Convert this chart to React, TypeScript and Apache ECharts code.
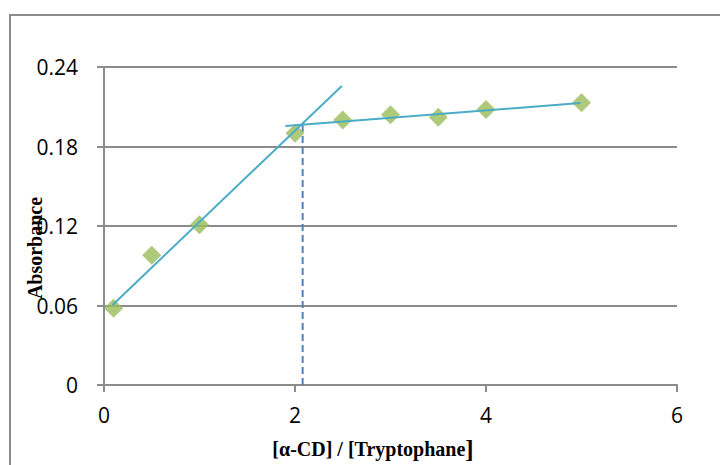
import React, { useEffect, useRef } from "react";
import * as echarts from "echarts";

const ratio = [0.1, 0.5, 1, 2, 2.5, 3, 3.5, 4, 5];
const absorbance = [0.058, 0.098, 0.121, 0.19, 0.2, 0.204, 0.202, 0.208, 0.213];
const fit1 = [[0.09, 0.0604], [2.49, 0.2257]];
const fit2 = [[1.9, 0.1955], [4.99, 0.2128]];
const breakX = [[2.08, 0], [2.08, 0.197]];
const yTicks = [0, 0.06, 0.12, 0.18, 0.24];
const xTicks = [0, 2, 4, 6];

export default function App() {
  const ref = useRef<HTMLDivElement>(null);
  useEffect(() => {
    if (!ref.current) return;
    const chart = echarts.init(ref.current, null, { renderer: "svg" });
    const axisColor = "#8c8c8c";
    chart.setOption({
      animation: false,
      backgroundColor: "#ffffff",
      grid: { left: 104, right: 43, top: 67, bottom: 80 },
      xAxis: {
        type: "value",
        min: xTicks[0],
        max: xTicks[xTicks.length - 1],
        interval: 2,
        axisLine: { show: true, lineStyle: { color: axisColor, width: 2 } },
        axisTick: { show: true, length: 7, lineStyle: { color: axisColor, width: 2 } },
        splitLine: { show: false },
        axisLabel: { color: "#000", fontSize: 21, fontFamily: "Open Sans", margin: 19 },
      },
      yAxis: {
        type: "value",
        min: yTicks[0],
        max: yTicks[yTicks.length - 1],
        interval: 0.06,
        axisLine: { show: true, lineStyle: { color: axisColor, width: 2 } },
        axisTick: { show: true, length: 7, lineStyle: { color: axisColor, width: 2 } },
        splitLine: { show: true, lineStyle: { color: axisColor, width: 2 } },
        axisLabel: {
          color: "#000",
          fontSize: 21,
          fontFamily: "Open Sans",
          margin: 26,
          formatter: (v: number) => (v === 0 ? "0" : v.toFixed(2)),
        },
      },
      graphic: [
        {
          type: "rect",
          shape: { x: 10, y: 15, width: 740, height: 480 },
          style: { fill: "none", stroke: axisColor, lineWidth: 2 },
          silent: true,
          z: -1,
        },
        {
          type: "text",
          x: 35,
          y: 248,
          rotation: Math.PI / 2,
          z: 10,
          style: {
            text: "Absorbance",
            font: "bold 20px 'Liberation Serif'",
            fill: "#000",
            align: "center",
            verticalAlign: "middle",
          },
        },
        {
          type: "text",
          x: 373,
          y: 449,
          style: {
            text: "{a|[α-CD] / [Tryptophane}{b|]}",
            rich: {
              a: { font: "bold 20px 'Liberation Serif'", fill: "#000" },
              b: { font: "bold 25px 'Liberation Serif'", fill: "#000" },
            },
            align: "center",
            verticalAlign: "middle",
          },
        },
      ],
      series: [
        {
          type: "line",
          data: breakX,
          showSymbol: false,
          lineStyle: { color: "#4f81bd", width: 2, type: [7, 4] },
          z: 1,
        },
        {
          type: "scatter",
          data: ratio.map((x, i) => [x, absorbance[i]]),
          symbol: "diamond",
          symbolSize: [19, 19],
          itemStyle: { color: "#9bbb59" },
          z: 2,
        },
        {
          type: "line",
          data: fit1,
          showSymbol: false,
          lineStyle: { color: "#4bacc6", width: 2 },
          z: 3,
        },
        {
          type: "line",
          data: fit2,
          showSymbol: false,
          lineStyle: { color: "#4bacc6", width: 2 },
          z: 3,
        },
      ],
    });
    return () => chart.dispose();
  }, []);
  return <div ref={ref} style={{ width: 720, height: 465, position: "absolute", left: 0, top: 0 }} />;
}
